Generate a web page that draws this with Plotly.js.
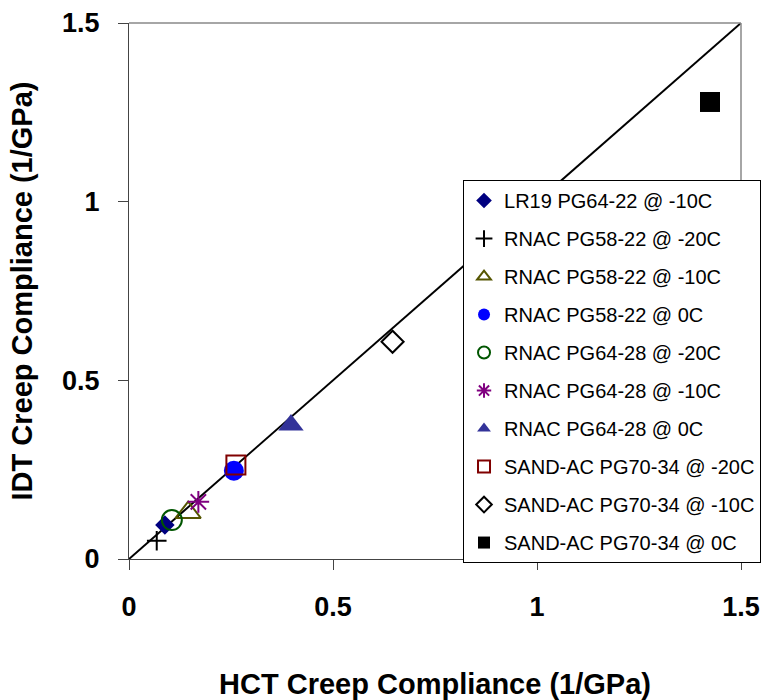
<!DOCTYPE html>
<html>
<head>
<meta charset="utf-8">
<script src="https://cdn.plot.ly/plotly-3.0.1.min.js"></script>
<style>html,body{margin:0;padding:0;background:#fff;}#chart{width:762px;height:700px;}</style>
</head>
<body>
<div id="chart"></div>
<script>
// Data
const seriesNames = [
  "LR19 PG64-22 @ -10C",
  "RNAC PG58-22 @ -20C",
  "RNAC PG58-22 @ -10C",
  "RNAC PG58-22 @ 0C",
  "RNAC PG64-28 @ -20C",
  "RNAC PG64-28 @ -10C",
  "RNAC PG64-28 @ 0C",
  "SAND-AC PG70-34 @ -20C",
  "SAND-AC PG70-34 @ -10C",
  "SAND-AC PG70-34 @ 0C"
];
const hctValues = [0.088, 0.068, 0.145, 0.257, 0.105, 0.170, 0.397, 0.262, 0.646, 1.424];
const idtValues = [0.095, 0.051, 0.130, 0.247, 0.109, 0.160, 0.375, 0.263, 0.608, 1.279];
const equalityLineX = [0, 1.5];
const equalityLineY = [0, 1.5];
const tickValues = [0, 0.5, 1, 1.5];
const tickLabels = ["0", "0.5", "1", "1.5"];

// Marker styles
const markerStyles = [
  {symbol: "diamond", color: "#000080", size: 15},
  {symbol: "cross-thin-open", color: "#000000", size: 14, line: {color: "#000000", width: 2}},
  {symbol: "triangle-up-open", color: "#555500", size: 22, line: {color: "#555500", width: 2}},
  {symbol: "circle", color: "#0000ff", size: 20},
  {symbol: "circle-open", color: "#005500", size: 20, line: {color: "#005500", width: 2}},
  {symbol: "asterisk-open", color: "#800080", size: 18, line: {color: "#800080", width: 2}},
  {symbol: "triangle-up", color: "#333399", size: 22},
  {symbol: "square-open", color: "#800000", size: 19, line: {color: "#800000", width: 2}},
  {symbol: "diamond-open", color: "#000000", size: 17, line: {color: "#000000", width: 2}},
  {symbol: "square", color: "#000000", size: 20}
];

const traces = [{
  x: equalityLineX, y: equalityLineY, mode: "lines",
  line: {color: "#000000", width: 2}, showlegend: false, hoverinfo: "skip"
}];
seriesNames.forEach((name, i) => {
  const m = Object.assign({}, markerStyles[i]);
  if (!m.line) m.line = {width: 0};
  traces.push({
    x: [hctValues[i]], y: [idtValues[i]], mode: "markers", name: name,
    legendgroup: "g" + i, marker: m
  });
});

const fontFam = "Arial, 'Liberation Sans', sans-serif";
const axisCommon = {
  range: [0, 1.5], tickvals: tickValues, ticktext: tickLabels,
  showgrid: false, zeroline: false, showline: true, linecolor: "#444444", linewidth: 1,
  ticks: "outside", ticklen: 10, tickcolor: "#444444", tickwidth: 1,
  tickfont: {family: fontFam, size: 27, color: "#000", weight: "bold"},
  automargin: false, fixedrange: true
};

const layout = {
  width: 762, height: 700,
  margin: {l: 129, r: 21, t: 23, b: 141, autoexpand: false},
  paper_bgcolor: "#ffffff", plot_bgcolor: "#ffffff",
  font: {family: fontFam, color: "#000"},
  xaxis: Object.assign({}, axisCommon, {
    title: {text: "HCT Creep Compliance (1/GPa)", font: {family: fontFam, size: 29, weight: "bold", color: "#000"}, standoff: 54},
    ticklabelstandoff: 14
  }),
  yaxis: Object.assign({}, axisCommon, {
    title: {text: "IDT Creep Compliance (1/GPa)", font: {family: fontFam, size: 29, weight: "bold", color: "#000"}, standoff: 20},
    ticklabelstandoff: 13
  }),
  shapes: [
    {type: "line", xref: "paper", yref: "paper", x0: 0, x1: 1, y0: 1, y1: 1, line: {color: "#888888", width: 1.5}},
    {type: "line", xref: "paper", yref: "paper", x0: 1, x1: 1, y0: 0, y1: 1, line: {color: "#888888", width: 1.5}}
  ],
  legend: {
    x: 1.0327, y: 0.707, xanchor: "right", yanchor: "top",
    bgcolor: "#ffffff", bordercolor: "#000000", borderwidth: 1,
    font: {family: fontFam, size: 20, color: "#000"},
    traceorder: "grouped", tracegroupgap: 9, itemsizing: "constant"
  },
  showlegend: true
};

Plotly.newPlot("chart", traces, layout, {displayModeBar: false, staticPlot: true});
</script>
</body>
</html>
